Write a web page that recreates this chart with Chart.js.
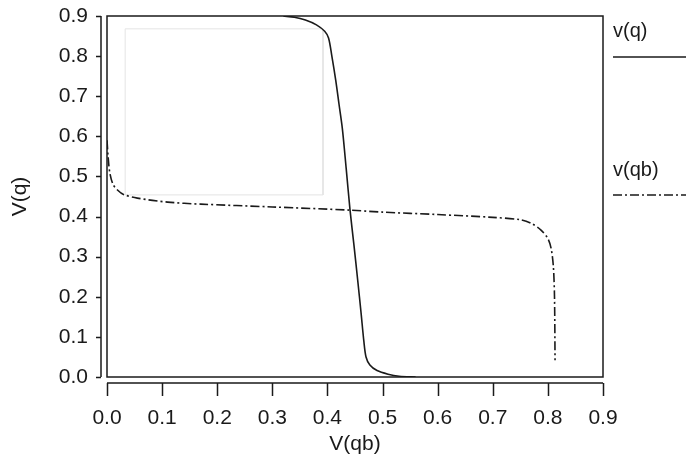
<!DOCTYPE html>
<html>
<head>
<meta charset="utf-8">
<script src="https://cdn.jsdelivr.net/npm/chart.js@4"></script>
<style>
  html, body { margin: 0; padding: 0; background: #fff; }
  #wrap { width: 686px; height: 463px; }
</style>
</head>
<body>
<div id="wrap"><canvas id="chart" width="686" height="463"></canvas></div>
<script>
// values
const xTicks = [0, 0.1, 0.2, 0.3, 0.4, 0.5, 0.6, 0.7, 0.8, 0.9];
const yTicks = [0, 0.1, 0.2, 0.3, 0.4, 0.5, 0.6, 0.7, 0.8, 0.9];

// v(q) - solid
const vqX = [0.32, 0.34, 0.36, 0.38, 0.395, 0.402, 0.408, 0.415, 0.421, 0.427, 0.434, 0.441, 0.448, 0.455, 0.461, 0.466, 0.470, 0.477, 0.490, 0.510, 0.530, 0.560];
const vqY = [0.90, 0.897, 0.89, 0.878, 0.862, 0.845, 0.80, 0.74, 0.68, 0.62, 0.52, 0.416, 0.33, 0.24, 0.16, 0.09, 0.05, 0.03, 0.016, 0.007, 0.002, 0.0];

// v(qb) - dash dot
const vqbX = [0.0, 0.002, 0.005, 0.011, 0.02, 0.03, 0.055, 0.11, 0.17, 0.30, 0.44, 0.50, 0.60, 0.70, 0.75, 0.77, 0.787, 0.80, 0.806, 0.81, 0.812, 0.813];
const vqbY = [0.59, 0.55, 0.51, 0.48, 0.465, 0.455, 0.446, 0.436, 0.431, 0.424, 0.416, 0.411, 0.405, 0.398, 0.392, 0.383, 0.367, 0.345, 0.32, 0.274, 0.20, 0.042];

// faint grey selection box
const boxX = [0.033, 0.392, 0.392, 0.033, 0.033];
const boxY = [0.868, 0.868, 0.454, 0.454, 0.868];

const seriesLabels = ['v(q)', 'v(qb)'];

const pts = (xs, ys) => xs.map((x, i) => ({ x: x, y: ys[i] }));
const FONT = 'Liberation Sans, Arial, sans-serif';
const INK = '#1a1a1a';

// frame, detached axes, legend
const framePlugin = {
    id: 'frame',
    beforeDatasetsDraw(chart) {
        const { ctx, chartArea: a } = chart;
        ctx.save();
        ctx.strokeStyle = INK;
        ctx.lineWidth = 1.5;
        ctx.strokeRect(a.left, a.top, a.right - a.left, a.bottom - a.top);
        ctx.restore();
    },
    afterDraw(chart) {
        const { ctx, chartArea: a, scales } = chart;
        ctx.save();
        ctx.strokeStyle = INK;
        ctx.lineWidth = 1.5;
        // y axis line + ticks
        const yx = a.left - 6;
        ctx.beginPath();
        ctx.moveTo(yx, scales.y.getPixelForValue(0));
        ctx.lineTo(yx, scales.y.getPixelForValue(0.9));
        yTicks.forEach(v => {
            const py = Math.round(scales.y.getPixelForValue(v)) + 0.5;
            ctx.moveTo(yx, py);
            ctx.lineTo(yx - 5, py);
        });
        // x axis line + ticks
        const xy = a.bottom + 6;
        ctx.moveTo(scales.x.getPixelForValue(0), xy);
        ctx.lineTo(scales.x.getPixelForValue(0.9), xy);
        xTicks.forEach(v => {
            const px = Math.round(scales.x.getPixelForValue(v)) + 0.5;
            ctx.moveTo(px, xy);
            ctx.lineTo(px, xy + 13);
        });
        ctx.stroke();

        // legend on the right
        const lx = a.right + 10;
        const rows = [{ ty: 31, ly: 57 }, { ty: 170, ly: 195 }];
        ctx.font = '20px ' + FONT;
        ctx.textBaseline = 'middle';
        ctx.textAlign = 'left';
        ctx.fillStyle = INK;
        rows.forEach((r, i) => {
            const ds = chart.data.datasets[i];
            ctx.fillText(seriesLabels[i], lx, r.ty);
            ctx.beginPath();
            ctx.setLineDash(ds.borderDash || []);
            ctx.lineWidth = 1.5;
            ctx.moveTo(lx, r.ly);
            ctx.lineTo(chart.width, r.ly);
            ctx.stroke();
        });
        ctx.restore();
    }
};

new Chart(document.getElementById('chart'), {
    type: 'scatter',
    data: {
        datasets: [
            {
                label: seriesLabels[0],
                data: pts(vqX, vqY),
                showLine: true,
                borderColor: INK,
                borderWidth: 1.6,
                pointRadius: 0,
                tension: 0.3
            },
            {
                label: seriesLabels[1],
                data: pts(vqbX, vqbY),
                showLine: true,
                borderColor: INK,
                borderWidth: 1.6,
                borderDash: [9, 3, 2, 3],
                pointRadius: 0,
                tension: 0.3
            },
            {
                label: 'box',
                data: pts(boxX, boxY),
                showLine: true,
                borderColor: '#e4e4e4',
                borderWidth: 1,
                pointRadius: 0
            }
        ]
    },
    options: {
        responsive: false,
        animation: false,
        layout: { padding: { top: 16, right: 83, left: 0, bottom: 0 } },
        plugins: { legend: { display: false }, tooltip: { enabled: false } },
        scales: {
            x: {
                type: 'linear',
                min: 0,
                max: 0.9,
                afterFit(s) { s.height = 86; s.paddingLeft = 0; s.paddingRight = 0; },
                afterBuildTicks(s) { s.ticks = xTicks.map(v => ({ value: v })); },
                grid: { display: false },
                border: { display: false },
                ticks: {
                    padding: 21,
                    color: INK,
                    font: { family: FONT, size: 21 },
                    callback: v => v.toFixed(1)
                },
                title: {
                    display: true,
                    text: 'V(qb)',
                    color: INK,
                    font: { family: FONT, size: 21 },
                    padding: { top: 0, bottom: 6 }
                }
            },
            y: {
                type: 'linear',
                min: 0,
                max: 0.9,
                afterFit(s) { s.width = 107; s.paddingTop = 0; s.paddingBottom = 0; },
                afterBuildTicks(s) { s.ticks = yTicks.map(v => ({ value: v })); },
                grid: { display: false },
                border: { display: false },
                ticks: {
                    padding: 11,
                    color: INK,
                    font: { family: FONT, size: 21 },
                    callback: v => v.toFixed(1)
                },
                title: {
                    display: true,
                    text: 'V(q)',
                    color: INK,
                    font: { family: FONT, size: 21 },
                    padding: { top: 8, bottom: 0 }
                }
            }
        }
    },
    plugins: [framePlugin]
});
</script>
</body>
</html>
